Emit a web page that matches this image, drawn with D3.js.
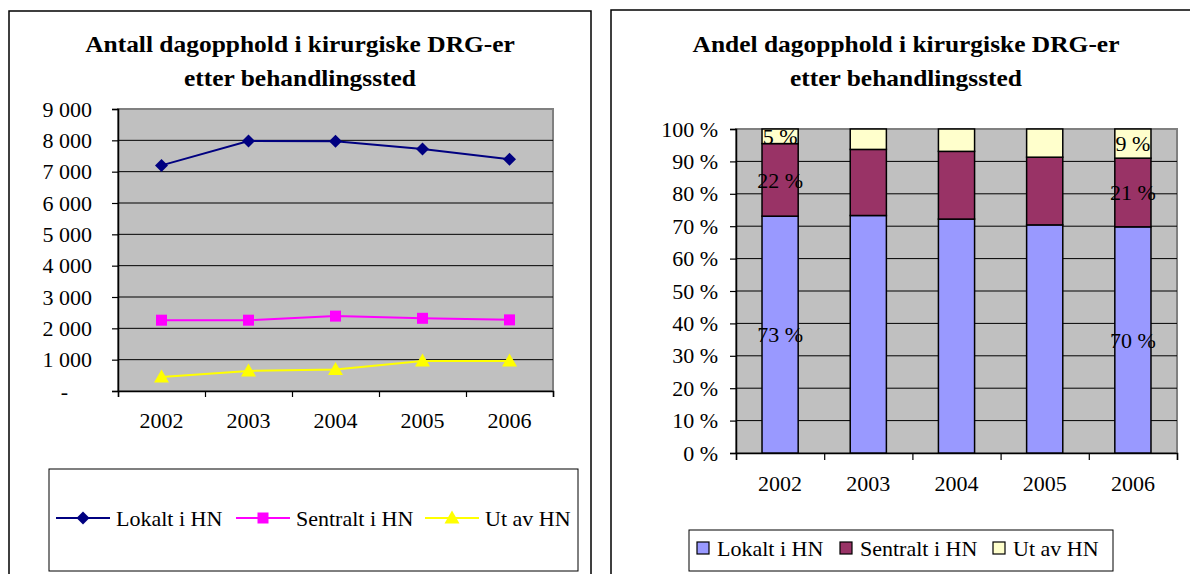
<!DOCTYPE html>
<html>
<head>
<meta charset="utf-8">
<script src="https://cdn.jsdelivr.net/npm/d3@7"></script>
<style>
  body { margin: 0; background: #fff; }
  svg { display: block; font-family: "Liberation Serif", "Times New Roman", serif; }
  svg text { font-family: "Liberation Serif", "Times New Roman", serif; fill: #000; }
  .title { font-weight: bold; font-size: 24px; }
  .tick text { font-size: 22px; }
</style>
</head>
<body>
<svg id="chart" width="1190" height="574"></svg>
<script>
// data
var years = ["2002", "2003", "2004", "2005", "2006"];
var seriesNames = ["Lokalt i HN", "Sentralt i HN", "Ut av HN"];

// antall dagopphold
var lokalt = [7200, 7980, 7970, 7720, 7400];
var sentralt = [2260, 2260, 2390, 2320, 2270];
var utAv = [450, 640, 690, 960, 960];
var countTicks = [0, 1000, 2000, 3000, 4000, 5000, 6000, 7000, 8000, 9000];

// andel (prosent)
var lokaltAndel = [73.1, 73.3, 72.2, 70.4, 69.8];
var sentraltAndel = [22.4, 20.4, 20.9, 20.9, 21.2];
var utAvAndel = [4.5, 6.3, 6.9, 8.7, 9.0];
var pctTicks = [0, 10, 20, 30, 40, 50, 60, 70, 80, 90, 100];
var labelYears = ["2002", "2006"];

var lineColors = ["#000080", "#FF00FF", "#FFFF00"];
var barColors = ["#9999FF", "#993366", "#FFFFCC"];

var svg = d3.select("#chart");

// panel frames
svg.append("rect").attr("x", 9).attr("y", 11).attr("width", 582).attr("height", 600)
	.attr("fill", "none").attr("stroke", "#000").attr("stroke-width", 1.5);
svg.append("rect").attr("x", 611).attr("y", 10).attr("width", 590).attr("height", 600)
	.attr("fill", "none").attr("stroke", "#000").attr("stroke-width", 1.5);

function title(cx, lines) {
	lines.forEach(function (t, i) {
		var el = svg.append("text").attr("class", "title")
			.attr("x", cx).attr("y", 44 + i * 34).attr("dy", "0.35em")
			.attr("text-anchor", "middle").text(t);
		// reference type is a little wider than Liberation Serif
		var w = el.node().getComputedTextLength();
		el.attr("textLength", w * 1.06).attr("lengthAdjust", "spacingAndGlyphs");
	});
}

title(300, ["Antall dagopphold i kirurgiske DRG-er", "etter behandlingssted"]);
title(906, ["Andel dagopphold i kirurgiske DRG-er", "etter behandlingssted"]);

// ---------- left: line chart ----------
var L = { left: 118, right: 553, top: 109, bottom: 391 };
var gL = svg.append("g");

var xL = d3.scaleBand().domain(years).range([L.left, L.right]);
var yL = d3.scaleLinear().domain([0, 9000]).range([L.bottom, L.top]);
var nb = d3.formatLocale({ decimal: ",", thousands: " ", grouping: [3], currency: ["", ""] }).format(",");

gL.append("rect").attr("x", L.left).attr("y", L.top)
	.attr("width", L.right - L.left).attr("height", L.bottom - L.top)
	.attr("fill", "#C0C0C0").attr("stroke", "#808080").attr("stroke-width", 2);

gL.selectAll(".grid").data(countTicks.slice(1, -1)).enter().append("line")
	.attr("x1", L.left).attr("x2", L.right)
	.attr("y1", function (d) { return yL(d); }).attr("y2", function (d) { return yL(d); })
	.attr("stroke", "#000").attr("stroke-width", 1);

var yAxL = gL.append("g").attr("transform", "translate(" + L.left + ",0)")
	.call(d3.axisLeft(yL).tickValues(countTicks).tickSize(6).tickPadding(20)
		.tickFormat(function (d) { return d === 0 ? "-" : nb(d); }));
yAxL.selectAll(".tick text").filter(function (d) { return d === 0; }).attr("dx", -24);

var bL = d3.scaleLinear().domain([0, 5]).range([L.left, L.right]);
gL.append("g").attr("transform", "translate(0," + L.bottom + ")")
	.call(d3.axisBottom(bL).ticks(5).tickSize(6).tickFormat(""));
gL.append("g").attr("transform", "translate(0," + (L.bottom + 21) + ")")
	.call(d3.axisBottom(xL).tickSize(0).tickPadding(0))
	.call(function (g) { g.select(".domain").remove(); });

gL.selectAll(".domain").attr("stroke", "#000").attr("stroke-width", 1.5);
gL.selectAll(".tick line").attr("stroke", "#000").attr("stroke-width", 1.2);

var lineSeries = [lokalt, sentralt, utAv];
var markers = [
	"M0,-6.5L6.5,0L0,6.5L-6.5,0Z",
	"M-5.5,-5.5H5.5V5.5H-5.5Z",
	"M0,-7.5L7.5,5.5L-7.5,5.5Z"
];
var cx = function (i) { return xL(years[i]) + xL.bandwidth() / 2; };

lineSeries.forEach(function (vals, s) {
	var line = d3.line().x(function (d, i) { return cx(i); }).y(function (d) { return yL(d); });
	gL.append("path").datum(vals).attr("d", line)
		.attr("fill", "none").attr("stroke", lineColors[s]).attr("stroke-width", 2);
	gL.selectAll(".m" + s).data(vals).enter().append("path")
		.attr("d", markers[s])
		.attr("transform", function (d, i) { return "translate(" + cx(i) + "," + yL(d) + ")"; })
		.attr("fill", lineColors[s]);
});

// legend left
var legL = svg.append("g");
legL.append("rect").attr("x", 49).attr("y", 469).attr("width", 529).attr("height", 102)
	.attr("fill", "#fff").attr("stroke", "#000").attr("stroke-width", 1);
var legLx = [56, 236, 425];
seriesNames.forEach(function (n, s) {
	var x0 = legLx[s];
	legL.append("line").attr("x1", x0).attr("x2", x0 + 54).attr("y1", 518).attr("y2", 518)
		.attr("stroke", lineColors[s]).attr("stroke-width", 2);
	legL.append("path").attr("d", markers[s])
		.attr("transform", "translate(" + (x0 + 27) + ",518)").attr("fill", lineColors[s]);
	legL.append("text").attr("x", x0 + 60).attr("y", 518).attr("dy", "0.35em")
		.attr("font-size", 22).text(n);
});

// ---------- right: 100% stacked bars ----------
var R = { left: 736, right: 1177, top: 129, bottom: 453 };
var gR = svg.append("g");

var xR = d3.scaleBand().domain(years).range([R.left, R.right]).paddingInner(0.59).paddingOuter(0.295);
var yR = d3.scaleLinear().domain([0, 100]).range([R.bottom, R.top]);

gR.append("rect").attr("x", R.left).attr("y", R.top)
	.attr("width", R.right - R.left).attr("height", R.bottom - R.top)
	.attr("fill", "#C0C0C0").attr("stroke", "#808080").attr("stroke-width", 2);

gR.selectAll(".grid").data(pctTicks.slice(1, -1)).enter().append("line")
	.attr("x1", R.left).attr("x2", R.right)
	.attr("y1", function (d) { return yR(d); }).attr("y2", function (d) { return yR(d); })
	.attr("stroke", "#000").attr("stroke-width", 1);

gR.append("g").attr("transform", "translate(" + R.left + ",0)")
	.call(d3.axisLeft(yR).tickValues(pctTicks).tickSize(6).tickPadding(12)
		.tickFormat(function (d) { return d + " %"; }));

var bR = d3.scaleLinear().domain([0, 5]).range([R.left, R.right]);
gR.append("g").attr("transform", "translate(0," + R.bottom + ")")
	.call(d3.axisBottom(bR).ticks(5).tickSize(7).tickFormat(""));
gR.append("g").attr("transform", "translate(0," + (R.bottom + 22) + ")")
	.call(d3.axisBottom(xR).tickSize(0).tickPadding(0))
	.call(function (g) { g.select(".domain").remove(); });

gR.selectAll(".domain").attr("stroke", "#000").attr("stroke-width", 1.5);
gR.selectAll(".tick line").attr("stroke", "#000").attr("stroke-width", 1.2);

var table = years.map(function (y, i) {
	return { year: y, a: lokaltAndel[i], b: sentraltAndel[i], c: utAvAndel[i] };
});
var stack = d3.stack().keys(["a", "b", "c"])(table);

stack.forEach(function (layer, s) {
	gR.selectAll(".bar" + s).data(layer).enter().append("rect")
		.attr("x", function (d) { return xR(d.data.year); })
		.attr("width", xR.bandwidth())
		.attr("y", function (d) { return yR(d[1]); })
		.attr("height", function (d) { return yR(d[0]) - yR(d[1]); })
		.attr("fill", barColors[s]).attr("stroke", "#000").attr("stroke-width", 1.5);
});

// value labels on first and last bar, drawn over the bars
stack.forEach(function (layer, s) {
	gR.selectAll(".lab" + s).data(layer.filter(function (d) { return labelYears.indexOf(d.data.year) >= 0; }))
		.enter().append("text")
		.attr("x", function (d) { return xR(d.data.year) + xR.bandwidth() / 2; })
		.attr("y", function (d) { return yR((d[0] + d[1]) / 2); })
		.attr("dy", "0.35em").attr("text-anchor", "middle").attr("font-size", 22)
		.text(function (d) { return Math.round(d[1] - d[0]) + " %"; });
});

// legend right
var legR = svg.append("g");
legR.append("rect").attr("x", 689).attr("y", 530).attr("width", 424).attr("height", 41)
	.attr("fill", "#fff").attr("stroke", "#000").attr("stroke-width", 1);
var legRx = [697, 840, 993];
seriesNames.forEach(function (n, s) {
	var x0 = legRx[s];
	legR.append("rect").attr("x", x0).attr("y", 542).attr("width", 12).attr("height", 12)
		.attr("fill", barColors[s]).attr("stroke", "#000").attr("stroke-width", 1.2);
	legR.append("text").attr("x", x0 + 20).attr("y", 548).attr("dy", "0.35em")
		.attr("font-size", 22).text(n);
});
</script>
</body>
</html>
